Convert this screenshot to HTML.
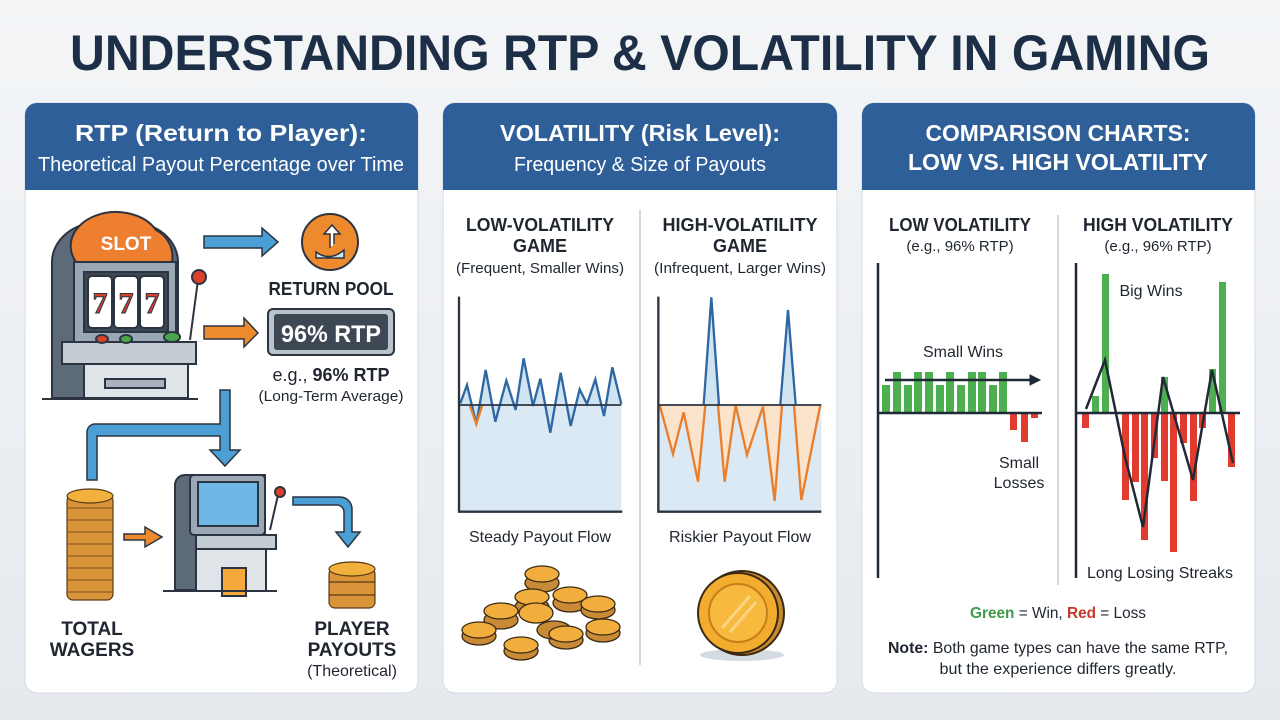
<!DOCTYPE html>
<html><head><meta charset="utf-8"><style>
html,body{margin:0;padding:0;background:#e9edf1;}
svg{display:block;font-family:"Liberation Sans",sans-serif;}
</style></head><body>
<svg width="1280" height="720" viewBox="0 0 1280 720">
<defs>
<linearGradient id="bg" x1="0" y1="0" x2="0" y2="1"><stop offset="0" stop-color="#f3f5f7"/><stop offset="1" stop-color="#e6eaee"/></linearGradient>
</defs>
<rect width="1280" height="720" fill="url(#bg)"/>
<text x="640" y="70" text-anchor="middle" font-size="50" font-weight="bold" fill="#1d2f47" textLength="1140" lengthAdjust="spacingAndGlyphs">UNDERSTANDING RTP &amp; VOLATILITY IN GAMING</text>

<g>
<rect x="25" y="103" width="393" height="590" rx="12" fill="#fff" stroke="#d5dbe2"/>
<path d="M25 190 V115 a12 12 0 0 1 12 -12 H406 a12 12 0 0 1 12 12 V190 Z" fill="#2e5f98"/>
<rect x="443" y="103" width="394" height="590" rx="12" fill="#fff" stroke="#d5dbe2"/>
<path d="M443 190 V115 a12 12 0 0 1 12 -12 H825 a12 12 0 0 1 12 12 V190 Z" fill="#2e5f98"/>
<rect x="862" y="103" width="393" height="590" rx="12" fill="#fff" stroke="#d5dbe2"/>
<path d="M862 190 V115 a12 12 0 0 1 12 -12 H1243 a12 12 0 0 1 12 12 V190 Z" fill="#2e5f98"/>
</g>
<g fill="#fff" text-anchor="middle">
<text x="221" y="141" font-size="23" font-weight="bold" textLength="292" lengthAdjust="spacingAndGlyphs">RTP (Return to Player):</text>
<text x="221" y="171" font-size="20" textLength="366" lengthAdjust="spacingAndGlyphs">Theoretical Payout Percentage over Time</text>
<text x="640" y="141" font-size="23" font-weight="bold" textLength="280" lengthAdjust="spacingAndGlyphs">VOLATILITY (Risk Level):</text>
<text x="640" y="171" font-size="20" textLength="252" lengthAdjust="spacingAndGlyphs">Frequency &amp; Size of Payouts</text>
<text x="1058" y="141" font-size="23" font-weight="bold" textLength="265" lengthAdjust="spacingAndGlyphs">COMPARISON CHARTS:</text>
<text x="1058" y="170" font-size="23" font-weight="bold" textLength="300" lengthAdjust="spacingAndGlyphs">LOW VS. HIGH VOLATILITY</text>
</g>

<g stroke="#2b3440" stroke-width="2">
<path d="M52 398 V262 a48 40 0 0 1 48 -40 H130 a48 40 0 0 1 48 40 V398 Z" fill="#5c6a7a"/>
<path d="M76 262 a40 30 0 0 1 80 -32 a30 30 0 0 1 16 32 Z" fill="#ee7f30"/>
<rect x="74" y="262" width="102" height="80" fill="#9aa7b4"/>
<rect x="84" y="272" width="84" height="60" fill="#3d4854"/>
<rect x="88" y="276" width="24" height="52" rx="4" fill="#fff"/>
<rect x="114" y="276" width="24" height="52" rx="4" fill="#fff"/>
<rect x="140" y="276" width="24" height="52" rx="4" fill="#fff"/>
<rect x="62" y="342" width="134" height="22" fill="#c4ccd4"/>
<rect x="84" y="364" width="104" height="34" fill="#dfe4e9"/>
<rect x="105" y="379" width="60" height="9" fill="#aab3bd"/>
<line x1="190" y1="340" x2="198" y2="280"/>
<circle cx="199" cy="277" r="7" fill="#d9412b"/>
<ellipse cx="102" cy="339" rx="6" ry="4" fill="#d9412b"/>
<ellipse cx="126" cy="339" rx="6" ry="4" fill="#4aa64a"/>
<ellipse cx="172" cy="337" rx="8" ry="5" fill="#4aa64a"/>
<line x1="42" y1="399" x2="198" y2="399"/>
</g>
<text x="126" y="250" text-anchor="middle" font-size="19" font-weight="bold" fill="#fff">SLOT</text>
<g font-size="30" font-weight="bold" fill="#d9412b" stroke="#2b3440" stroke-width="1" font-family="Liberation Serif,serif" text-anchor="middle">
<text x="100" y="313">7</text><text x="126" y="313">7</text><text x="152" y="313">7</text>
</g>
<path d="M204 236 H262 V228 L278 242 L262 256 V248 H204 Z" fill="#4b9fd5" stroke="#2b3440" stroke-width="1.5"/>
<path d="M204 326 H244 V318 L258 333 L244 347 V339 H204 Z" fill="#ee8a2e" stroke="#2b3440" stroke-width="1.5"/>
<circle cx="330" cy="242" r="28" fill="#ee8a2e" stroke="#2b3440" stroke-width="2"/>
<path d="M316 252 q14 10 28 -2 v8 h-28 z" fill="#cfe6f5" stroke="#2b3440" stroke-width="1.5"/>
<path d="M330 248 v-14 h-6 l8 -9 l8 9 h-6 v10" fill="#fff" stroke="#2b3440" stroke-width="1.5"/>
<text x="331" y="295" text-anchor="middle" font-size="18" font-weight="bold" fill="#1f2630" textLength="125" lengthAdjust="spacingAndGlyphs">RETURN POOL</text>
<rect x="268" y="309" width="126" height="46" rx="5" fill="#b9c3cd" stroke="#2b3440" stroke-width="2"/>
<rect x="274" y="314" width="114" height="36" rx="3" fill="#3d4854"/>
<text x="331" y="342" text-anchor="middle" font-size="24" font-weight="bold" fill="#fff" textLength="100" lengthAdjust="spacingAndGlyphs">96% RTP</text>
<text x="331" y="381" text-anchor="middle" font-size="18" fill="#1f2630">e.g., <tspan font-weight="bold">96% RTP</tspan></text>
<text x="331" y="401" text-anchor="middle" font-size="15" fill="#1f2630" textLength="145" lengthAdjust="spacingAndGlyphs">(Long-Term Average)</text>
<path d="M87 480 V432 a8 8 0 0 1 8 -8 H220 V390 H230 V450 H240 L225 466 L210 450 H220 V436 H97 V480 Z" fill="#4b9fd5" stroke="#2b3440" stroke-width="1.5"/>
<path d="M124 534 H145 V527 L162 537 L145 547 V540 H124 Z" fill="#ee8a2e" stroke="#2b3440" stroke-width="1.5"/>
<path d="M293 505 V497 H340 a12 12 0 0 1 12 12 V532 H360 L348 547 L336 532 H344 V512 a7 7 0 0 0 -7 -7 Z" fill="#4b9fd5" stroke="#2b3440" stroke-width="1.5"/>
<g stroke="#5a3a18" stroke-width="1.2" fill="#d9943a">
<rect x="67" y="495" width="46" height="105" rx="6"/>
<ellipse cx="90" cy="496" rx="23" ry="7" fill="#f2b13c"/>
</g>
<g stroke="#7a4f20" stroke-width="1">
<line x1="67" y1="508" x2="113" y2="508"/><line x1="67" y1="520" x2="113" y2="520"/><line x1="67" y1="532" x2="113" y2="532"/><line x1="67" y1="544" x2="113" y2="544"/><line x1="67" y1="556" x2="113" y2="556"/><line x1="67" y1="568" x2="113" y2="568"/><line x1="67" y1="580" x2="113" y2="580"/><line x1="67" y1="592" x2="113" y2="592"/>
</g>
<g stroke="#2b3440" stroke-width="2">
<path d="M175 590 V485 a10 10 0 0 1 10 -10 H265 V590 Z" fill="#5c6a7a"/>
<rect x="190" y="475" width="75" height="60" rx="4" fill="#9aa7b4"/>
<rect x="198" y="482" width="60" height="44" fill="#6fb8e6"/>
<rect x="196" y="535" width="80" height="14" fill="#c4ccd4"/>
<rect x="196" y="549" width="70" height="42" fill="#dfe4e9"/>
<rect x="222" y="568" width="24" height="28" fill="#f4a93a"/>
<line x1="270" y1="530" x2="278" y2="495"/>
<circle cx="280" cy="492" r="5" fill="#d9412b"/>
<line x1="163" y1="591" x2="277" y2="591"/>
</g>
<g stroke="#5a3a18" stroke-width="1.2" fill="#d9943a">
<rect x="329" y="568" width="46" height="40" rx="6"/>
<ellipse cx="352" cy="569" rx="23" ry="7" fill="#f2b13c"/>
<line x1="329" y1="582" x2="375" y2="582"/><line x1="329" y1="595" x2="375" y2="595"/>
</g>
<g font-size="19" font-weight="bold" fill="#1f2630" text-anchor="middle">
<text x="92" y="635">TOTAL</text><text x="92" y="656">WAGERS</text>
<text x="352" y="635">PLAYER</text><text x="352" y="656">PAYOUTS</text>
</g>
<text x="352" y="676" text-anchor="middle" font-size="16" fill="#1f2630">(Theoretical)</text>

<line x1="640" y1="210" x2="640" y2="665" stroke="#d3d8de" stroke-width="2"/>
<g text-anchor="middle" fill="#1f2630">
<text x="540" y="231" font-size="18" font-weight="bold" textLength="148" lengthAdjust="spacingAndGlyphs">LOW-VOLATILITY</text>
<text x="540" y="252" font-size="18" font-weight="bold">GAME</text>
<text x="540" y="273" font-size="15" textLength="168" lengthAdjust="spacingAndGlyphs">(Frequent, Smaller Wins)</text>
<text x="740" y="231" font-size="18" font-weight="bold" textLength="155" lengthAdjust="spacingAndGlyphs">HIGH-VOLATILITY</text>
<text x="740" y="252" font-size="18" font-weight="bold">GAME</text>
<text x="740" y="273" font-size="15" textLength="172" lengthAdjust="spacingAndGlyphs">(Infrequent, Larger Wins)</text>
<text x="540" y="542" font-size="16" textLength="142" lengthAdjust="spacingAndGlyphs">Steady Payout Flow</text>
<text x="740" y="542" font-size="16" textLength="142" lengthAdjust="spacingAndGlyphs">Riskier Payout Flow</text>
</g>
<g transform="translate(443,280) scale(0.33333)" fill="none" stroke-linejoin="miter">
<rect x="48" y="375" width="487" height="320" fill="#dbe9f4"/>
<polygon points="52,370 72,315 100,432 128,270 157,425 190,302 218,390 242,235 270,378 292,296 322,458 353,278 383,438 410,328 432,372 457,298 483,408 508,262 535,372 535,375 52,375" fill="#cfe3f1"/>
<polyline points="52,370 72,315 100,432 128,270 157,425 190,302 218,390 242,235 270,378 292,296 322,458 353,278 383,438 410,328 432,372 457,298 483,408 508,262 535,372" stroke="#2e67a3" stroke-width="7"/>
<polyline points="80,375 100,432 118,375 M145,375 157,425 168,375 M210,375 218,390 226,375 M305,375 322,458 340,375 M368,375 383,438 398,375 M475,375 483,408 493,375" stroke="#e97f2c" stroke-width="7"/>
<line x1="48" y1="375" x2="535" y2="375" stroke="#2b3440" stroke-width="5"/>
<polyline points="48,50 48,695 538,695" stroke="#2b3440" stroke-width="7"/>

<rect x="648" y="375" width="487" height="320" fill="#dbe9f4"/>
<polygon points="650,375 690,522 722,397 765,605 787,375 825,375 845,605 878,375 912,525 960,380 995,663 1017,375 1053,375 1075,660 1132,375" fill="#fbe3cc"/>
<polygon points="787,375 805,52 825,375" fill="#cfe3f1"/>
<polygon points="1017,375 1035,90 1053,375" fill="#cfe3f1"/>
<polyline points="650,375 690,522 722,397 765,605 787,375" stroke="#e97f2c" stroke-width="7"/>
<polyline points="825,375 845,605 878,375 912,525 960,380 995,663 1017,375" stroke="#e97f2c" stroke-width="7"/>
<polyline points="1053,375 1075,660 1132,375" stroke="#e97f2c" stroke-width="7"/>
<polyline points="782,375 805,52 828,375" stroke="#2e67a3" stroke-width="7"/>
<polyline points="1012,375 1035,90 1058,375" stroke="#2e67a3" stroke-width="7"/>
<line x1="648" y1="375" x2="1135" y2="375" stroke="#2b3440" stroke-width="5"/>
<polyline points="646,50 646,695 1135,695" stroke="#2b3440" stroke-width="7"/>
</g>
<g stroke="#3a2a14" stroke-width="1.3">
<g fill="#c98a36">
<ellipse cx="479" cy="636" rx="17" ry="9"/><ellipse cx="521" cy="651" rx="17" ry="9"/><ellipse cx="566" cy="640" rx="17" ry="9"/><ellipse cx="603" cy="633" rx="17" ry="9"/><ellipse cx="532" cy="607" rx="17" ry="9"/><ellipse cx="570" cy="603" rx="17" ry="9"/><ellipse cx="501" cy="620" rx="17" ry="9"/><ellipse cx="598" cy="610" rx="17" ry="9"/><ellipse cx="542" cy="583" rx="17" ry="9"/><ellipse cx="554" cy="630" rx="17" ry="9"/>
</g>
<g fill="#f2ae3c">
<ellipse cx="479" cy="630" rx="17" ry="8"/><ellipse cx="521" cy="645" rx="17" ry="8"/><ellipse cx="566" cy="634" rx="17" ry="8"/><ellipse cx="603" cy="627" rx="17" ry="8"/><ellipse cx="532" cy="597" rx="17" ry="8"/><ellipse cx="570" cy="595" rx="17" ry="8"/><ellipse cx="501" cy="611" rx="17" ry="8"/><ellipse cx="598" cy="604" rx="17" ry="8"/><ellipse cx="542" cy="574" rx="17" ry="8"/><ellipse cx="536" cy="613" rx="17" ry="10"/>
</g>
</g>
<ellipse cx="742" cy="655" rx="42" ry="6" fill="#d6dbe1"/>
<circle cx="742" cy="613" r="42" fill="#c78a2c" stroke="#3a2a14" stroke-width="2"/>
<circle cx="738" cy="613" r="40" fill="#f4ac2f" stroke="#3a2a14" stroke-width="2"/>
<circle cx="738" cy="613" r="29" fill="#f7b93e" stroke="#c47f1a" stroke-width="2"/>
<path d="M722 628 L750 596 M730 632 L756 602" stroke="#fbd582" stroke-width="3"/>

<line x1="1058" y1="215" x2="1058" y2="585" stroke="#d3d8de" stroke-width="2"/>
<g text-anchor="middle" fill="#1f2630">
<text x="960" y="231" font-size="18" font-weight="bold" textLength="142" lengthAdjust="spacingAndGlyphs">LOW VOLATILITY</text>
<text x="960" y="251" font-size="15">(e.g., 96% RTP)</text>
<text x="1158" y="231" font-size="18" font-weight="bold" textLength="150" lengthAdjust="spacingAndGlyphs">HIGH VOLATILITY</text>
<text x="1158" y="251" font-size="15">(e.g., 96% RTP)</text>
<text x="963" y="357" font-size="16">Small Wins</text>
<text x="1019" y="468" font-size="16">Small</text>
<text x="1019" y="488" font-size="16">Losses</text>
<text x="1151" y="296" font-size="16">Big Wins</text>
<text x="1160" y="578" font-size="16" textLength="146" lengthAdjust="spacingAndGlyphs">Long Losing Streaks</text>
<text x="1058" y="618" font-size="16" textLength="176" lengthAdjust="spacingAndGlyphs"><tspan fill="#3f9a4a" font-weight="bold">Green</tspan> = Win, <tspan fill="#c9372b" font-weight="bold">Red</tspan> = Loss</text>
<text x="1058" y="653" font-size="16" textLength="340" lengthAdjust="spacingAndGlyphs"><tspan font-weight="bold">Note:</tspan> Both game types can have the same RTP,</text>
<text x="1058" y="674" font-size="16" textLength="237" lengthAdjust="spacingAndGlyphs">but the experience differs greatly.</text>
</g>
<g fill="#4caf50">
<rect x="882" y="385" width="8" height="28"/><rect x="893" y="372" width="8" height="41"/><rect x="904" y="385" width="8" height="28"/><rect x="914" y="372" width="8" height="41"/><rect x="925" y="372" width="8" height="41"/><rect x="936" y="385" width="8" height="28"/><rect x="946" y="372" width="8" height="41"/><rect x="957" y="385" width="8" height="28"/><rect x="968" y="372" width="8" height="41"/><rect x="978" y="372" width="8" height="41"/><rect x="989" y="385" width="8" height="28"/><rect x="999" y="372" width="8" height="41"/>
<rect x="1092" y="396" width="7" height="17"/><rect x="1102" y="274" width="7" height="139"/><rect x="1161" y="377" width="7" height="36"/><rect x="1209" y="369" width="7" height="44"/><rect x="1219" y="282" width="7" height="131"/>
</g>
<g fill="#e03b2e">
<rect x="1010" y="413" width="7" height="17"/><rect x="1021" y="413" width="7" height="29"/><rect x="1031" y="413" width="7" height="5"/>
<rect x="1082" y="413" width="7" height="15"/><rect x="1122" y="413" width="7" height="87"/><rect x="1132" y="413" width="7" height="69"/><rect x="1141" y="413" width="7" height="127"/><rect x="1151" y="413" width="7" height="45"/><rect x="1161" y="413" width="7" height="68"/><rect x="1170" y="413" width="7" height="139"/><rect x="1180" y="413" width="7" height="30"/><rect x="1190" y="413" width="7" height="88"/><rect x="1199" y="413" width="7" height="15"/><rect x="1228" y="413" width="7" height="54"/>
</g>
<g stroke="#1f2a36" fill="none">
<line x1="878" y1="263" x2="878" y2="578" stroke-width="2.5"/>
<line x1="878" y1="413" x2="1042" y2="413" stroke-width="2.5"/>
<line x1="885" y1="380" x2="1034" y2="380" stroke-width="2.5"/>
<path d="M1030 375 L1040 380 L1030 385 Z" fill="#1f2a36"/>
<line x1="1076" y1="263" x2="1076" y2="578" stroke-width="2.5"/>
<line x1="1076" y1="413" x2="1240" y2="413" stroke-width="2.5"/>
<polyline points="1086,409 1105,360 1125,457 1143,527 1163,377 1193,480 1212,370 1233,463" stroke-width="2.5"/>
</g>
</svg>
</body></html>
